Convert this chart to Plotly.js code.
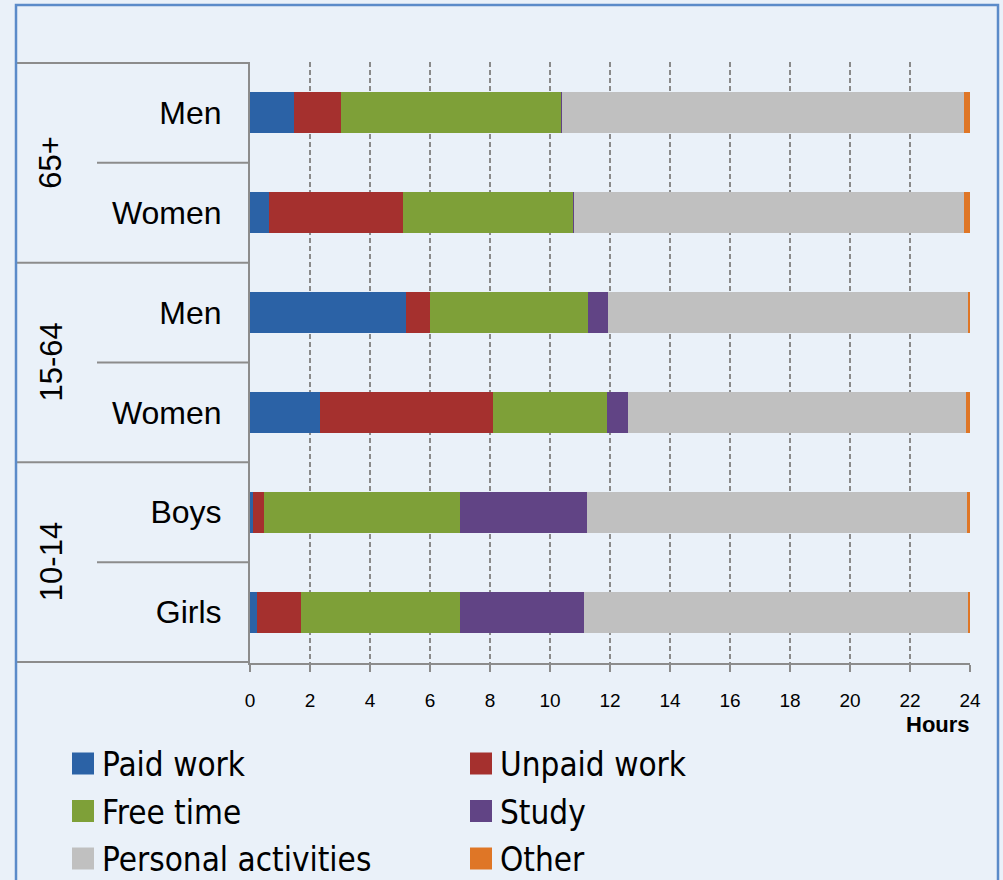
<!DOCTYPE html>
<html>
<head>
<meta charset="utf-8">
<script src="https://cdn.plot.ly/plotly-3.0.1.min.js"></script>
<style>
  html, body { margin: 0; padding: 0; background: #eaf1f9; }
  #chart { width: 1003px; height: 880px; }
</style>
</head>
<body>
<div id="chart"></div>
<script>
// ---- data ----
const groups = ["65+", "65+", "15-64", "15-64", "10-14", "10-14"];
const categories = ["Men", "Women", "Men", "Women", "Boys", "Girls"];
const seriesNames = ["Paid work", "Unpaid work", "Free time", "Study", "Personal activities", "Other"];
const paidWork = [1.45, 0.63, 5.2, 2.32, 0.1, 0.23];
const unpaidWork = [1.58, 4.47, 0.8, 5.78, 0.37, 1.47];
const freeTime = [7.34, 5.67, 5.27, 3.8, 6.53, 5.3];
const study = [0.03, 0.03, 0.66, 0.7, 4.23, 4.13];
const personalActivities = [13.4, 13.0, 12.0, 11.27, 12.67, 12.8];
const other = [0.2, 0.2, 0.07, 0.13, 0.1, 0.07];
const xTicks = [0, 2, 4, 6, 8, 10, 12, 14, 16, 18, 20, 22, 24];
const xTitle = "Hours";

// ---- styling ----
const colors = ["#2b62a6", "#a5302e", "#7ea038", "#614485", "#c0c0c0", "#df7626"];
const seriesValues = [paidWork, unpaidWork, freeTime, study, personalActivities, other];
const ids = categories.map((c, i) => groups[i] + "|" + c);

const W = 1003, H = 880;
const M = { l: 250, r: 33, t: 62, b: 217 };
const PW = W - M.l - M.r, PH = H - M.t - M.b;
const px = x => (x - M.l) / PW;          // pixel -> paper x
const py = y => (H - M.b - y) / PH;      // pixel -> paper y

const traces = seriesNames.map((name, k) => ({
  type: "bar",
  orientation: "h",
  name: name,
  y: ids,
  x: seriesValues[k],
  marker: { color: colors[k], line: { width: 0 } },
  showlegend: false,
  hoverinfo: "x+name"
}));

const lineColor = "#8c8c8c";
const shapes = [];
// label box lines
for (let i = 0; i <= categories.length; i++) {
  const yv = i - 0.5;
  const full = (i === 0 || i === categories.length || groups[i] !== groups[i - 1]);
  shapes.push({
    type: "line", xref: "paper", yref: "y",
    x0: px(full ? 17 : 97), x1: px(250), y0: yv, y1: yv,
    line: { color: lineColor, width: 2 }
  });
}
// outer border
shapes.push({
  type: "rect", xref: "paper", yref: "paper",
  x0: px(16), x1: px(998), y0: py(900), y1: py(5),
  line: { color: "#5b8bc9", width: 2.5 }, fillcolor: "rgba(0,0,0,0)"
});

const annotations = [];
// group labels
const uniqGroups = [...new Set(groups)];
uniqGroups.forEach(g => {
  const idx = groups.map((v, i) => v === g ? i : -1).filter(i => i >= 0);
  const mid = (idx[0] + idx[idx.length - 1]) / 2;
  annotations.push({
    xref: "paper", yref: "y", x: px(51), y: mid,
    text: g, textangle: -90, showarrow: false,
    xanchor: "center", yanchor: "middle",
    font: { family: "Liberation Sans, Arial, sans-serif", size: 31, color: "#000" }
  });
});
// axis title
annotations.push({
  xref: "paper", yref: "paper", x: px(972), y: py(724),
  xanchor: "right", yanchor: "middle", showarrow: false,
  text: "<b>" + xTitle + "</b>",
  font: { family: "Liberation Sans, Arial, sans-serif", size: 22, color: "#000" }
});
// custom legend
const legColX = [72, 470], legRowY = [763.5, 811, 858.5];
seriesNames.forEach((name, k) => {
  const c = k % 2, r = Math.floor(k / 2);
  const sx = legColX[c], sy = legRowY[r];
  shapes.push({
    type: "rect", xref: "paper", yref: "paper",
    x0: px(sx), x1: px(sx + 22), y0: py(sy + 11), y1: py(sy - 11),
    line: { width: 0 }, fillcolor: colors[k]
  });
  annotations.push({
    xref: "paper", yref: "paper", x: px(sx + 28), y: py(sy + 1),
    xanchor: "left", yanchor: "middle", showarrow: false,
    text: name,
    font: { family: "Liberation Sans Narrow, DejaVu Sans Condensed, sans-serif", size: 33, color: "#000" }
  });
});

const layout = {
  width: W, height: H,
  margin: M,
  paper_bgcolor: "#eaf1f9",
  plot_bgcolor: "#eaf1f9",
  barmode: "stack",
  bargap: 0.59,
  showlegend: false,
  xaxis: {
    range: [0, 24],
    tickvals: xTicks,
    ticktext: xTicks.map(String),
    showgrid: true,
    gridcolor: "#8a8a8a",
    gridwidth: 1.5,
    griddash: "5px,3px",
    zeroline: false,
    showline: true,
    linecolor: lineColor,
    linewidth: 2,
    ticks: "outside",
    ticklen: 7,
    tickwidth: 2,
    tickcolor: lineColor,
    ticklabelstandoff: 12,
    tickfont: { family: "Liberation Sans, Arial, sans-serif", size: 19, color: "#000" },
    fixedrange: true
  },
  yaxis: {
    type: "category",
    categoryorder: "array",
    categoryarray: ids,
    autorange: "reversed",
    tickvals: ids,
    ticktext: categories,
    showgrid: false,
    zeroline: false,
    showline: true,
    linecolor: lineColor,
    linewidth: 2,
    ticks: "",
    ticklabelstandoff: 20,
    tickfont: { family: "Liberation Sans, Arial, sans-serif", size: 32, color: "#000" },
    fixedrange: true
  },
  shapes: shapes,
  annotations: annotations
};

Plotly.newPlot("chart", traces, layout, { displayModeBar: false, staticPlot: true });
</script>
</body>
</html>
